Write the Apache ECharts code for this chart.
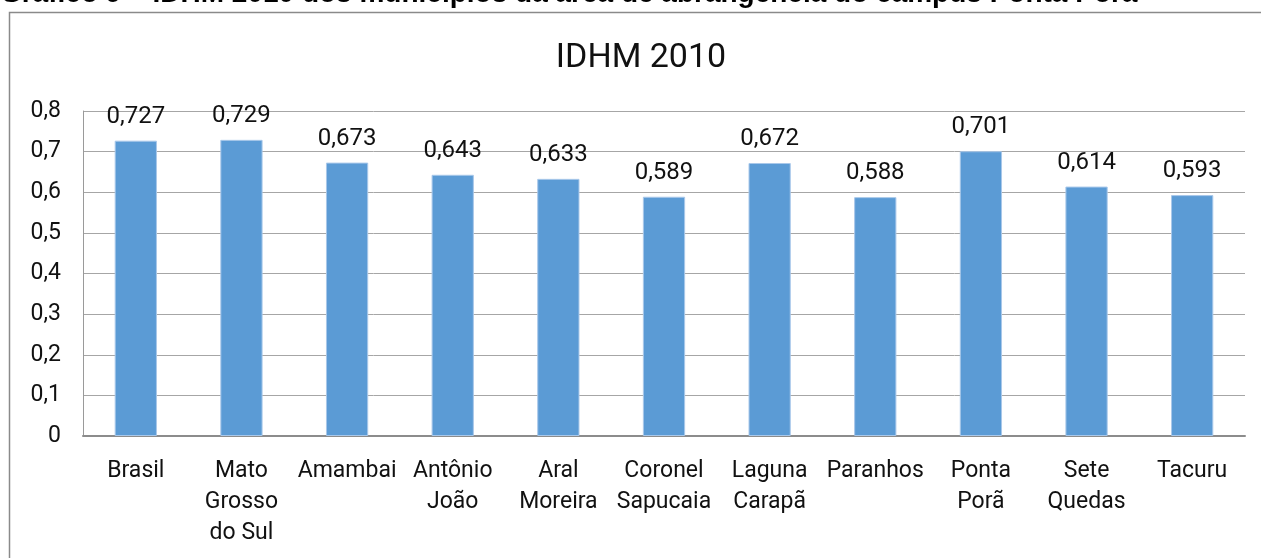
<!DOCTYPE html>
<html>
<head>
<meta charset="utf-8">
<title>IDHM 2010</title>
<script src="https://cdn.jsdelivr.net/npm/echarts@6/dist/echarts.min.js"></script>
<style>
    html, body { margin: 0; padding: 0; background: #fff; }
    #chart { width: 1261px; height: 558px; }
</style>
</head>
<body>
<div id="chart"></div>
<script>
// categorias (com quebras de linha como no gráfico original)
var municipios = ['Brasil', 'Mato\nGrosso\ndo Sul', 'Amambai', 'Antônio\nJoão', 'Aral\nMoreira',
    'Coronel\nSapucaia', 'Laguna\nCarapã', 'Paranhos', 'Ponta\nPorã', 'Sete\nQuedas', 'Tacuru'];
var idhm = [0.727, 0.729, 0.673, 0.643, 0.633, 0.589, 0.672, 0.588, 0.701, 0.614, 0.593];

var myChart = echarts.init(document.getElementById('chart'));

function virgula(v) {
    return String(v).replace('.', ',');
}

var option = {
    animation: false,
    textStyle: { fontFamily: 'Roboto' },
    title: {
        text: 'IDHM 2010',
        left: 636,
        textAlign: 'center',
        top: 36,
        textStyle: { fontFamily: 'Roboto', fontSize: 34, fontWeight: 'normal', color: '#111' }
    },
    graphic: [{
        type: 'rect',
        shape: { x: 9.5, y: 12.5, width: 1300, height: 600 },
        style: { fill: 'none', stroke: '#8a8a8a', lineWidth: 1.5 }
    }, {
        type: 'text',
        left: 0,
        top: -20,
        style: {
            text: 'Gráfico 9 – IDHM 2010 dos municípios da área de abrangência do campus Ponta Porã',
            font: 'bold 28px "Liberation Sans"',
            fill: '#000'
        }
    }],
    grid: { left: 83, right: 16, top: 111, bottom: 122 },
    xAxis: {
        type: 'category',
        data: municipios,
        axisLine: { lineStyle: { color: '#8c8c8c', width: 2 } },
        axisTick: { show: false },
        axisLabel: {
            interval: 0,
            margin: 20,
            fontSize: 23,
            lineHeight: 31,
            color: '#111'
        }
    },
    yAxis: {
        type: 'value',
        min: 0,
        max: 0.8,
        interval: 0.1,
        axisLine: { show: true, lineStyle: { color: '#9a9a9a', width: 1 } },
        axisTick: { show: false },
        splitLine: { lineStyle: { color: '#a6a6a6', width: 1 } },
        axisLabel: {
            margin: 22,
            fontSize: 23,
            color: '#111',
            formatter: function (v) { return virgula(Math.round(v * 10) / 10); }
        }
    },
    series: [{
        type: 'bar',
        data: idhm,
        barWidth: '40%',
        itemStyle: { color: '#5b9bd5', borderColor: '#a9c8ea', borderWidth: 1 },
        label: {
            show: true,
            position: 'top',
            distance: 12,
            fontSize: 24,
            color: '#111',
            formatter: function (p) { return virgula(p.value); }
        }
    }]
};

myChart.setOption(option);
</script>
</body>
</html>
